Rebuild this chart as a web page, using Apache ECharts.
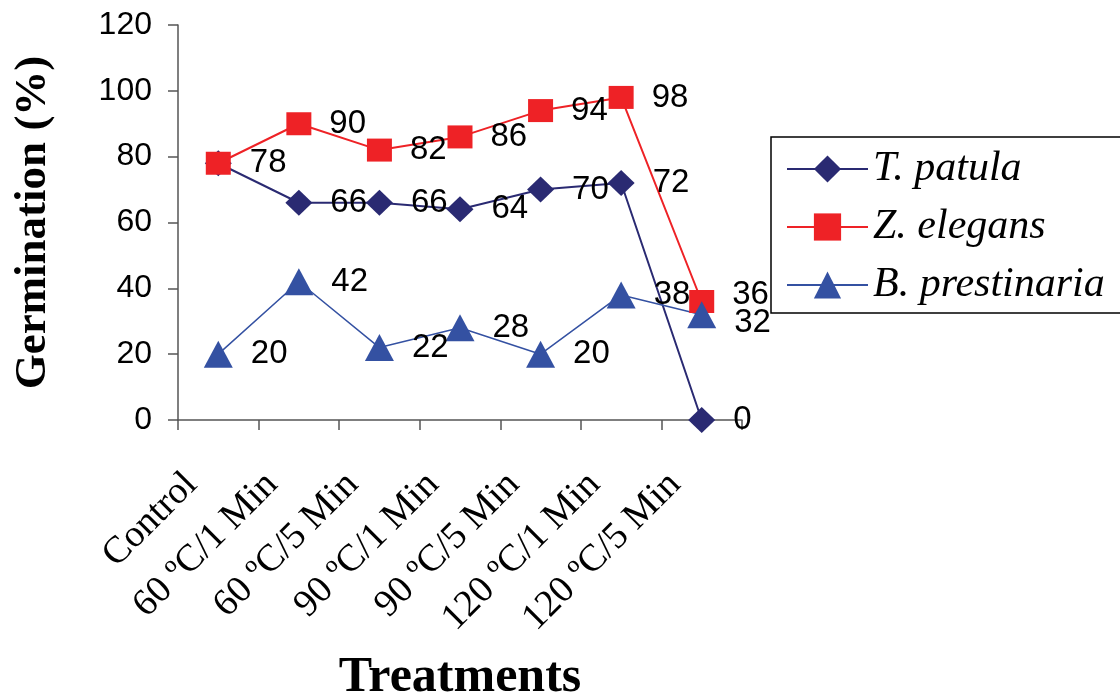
<!DOCTYPE html>
<html>
<head>
<meta charset="utf-8">
<script src="https://cdn.jsdelivr.net/npm/echarts@6/dist/echarts.min.js"></script>
<style>html,body{margin:0;padding:0;background:#fff}#c{width:1120px;height:700px}</style>
</head>
<body>
<div id="c"></div>
<script>
const categories = ['Control', '60 \u00BAC/1 Min', '60 \u00BAC/5 Min', '90 \u00BAC/1 Min', '90 \u00BAC/5 Min', '120 \u00BAC/1 Min', '120 \u00BAC/5 Min'];
const tPatula = [78, 66, 66, 64, 70, 72, 0];
const zElegans = [78, 90, 82, 86, 94, 98, 36];
const bPrestinaria = [20, 42, 22, 28, 20, 38, 32];
const yTicks = [0, 20, 40, 60, 80, 100, 120];

const SANS = '"Liberation Sans", Arial, sans-serif';
const SERIF = '"Liberation Serif", "Times New Roman", serif';

const chart = echarts.init(document.getElementById('c'));
const labelStyle = {show: true, position: 'right', distance: 18, color: '#000', fontFamily: SANS, fontSize: 33};
const last = zElegans.length - 1;

chart.setOption({
  animation: false,
  grid: {left: 178, right: 378, top: 25, bottom: 280, containLabel: false, outerBoundsMode: 'none'},
  legend: {
    left: 771, top: 137, orient: 'vertical',
    padding: [11, 90, 7, 15],
    itemWidth: 81, itemHeight: 34, itemGap: 16,
    borderColor: '#000', borderWidth: 1.5,
    textStyle: {fontFamily: SERIF, fontStyle: 'italic', fontSize: 42, color: '#000'},
    data: ['T. patula', 'Z. elegans', 'B. prestinaria']
  },
  xAxis: {
    type: 'category', data: categories, boundaryGap: true,
    name: 'Treatments', nameLocation: 'middle', nameGap: 233,
    nameTextStyle: {fontFamily: SERIF, fontWeight: 'bold', fontSize: 50, color: '#000'},
    axisLine: {lineStyle: {color: '#555', width: 1.5}},
    axisTick: {show: true, length: 10, alignWithLabel: false, lineStyle: {color: '#555', width: 1.5}},
    axisLabel: {rotate: 45, margin: 32, padding: [0, 38, 0, 0], interval: 0, fontFamily: SERIF, fontSize: 38, color: '#000'},
    splitLine: {show: false}
  },
  yAxis: {
    type: 'value', min: yTicks[0], max: yTicks[yTicks.length - 1], interval: 20,
    name: 'Germination (%)', nameLocation: 'middle', nameGap: 122, nameRotate: 90,
    nameTextStyle: {fontFamily: SERIF, fontWeight: 'bold', fontSize: 45, color: '#000'},
    axisLine: {show: true, lineStyle: {color: '#555', width: 1.5}},
    axisTick: {show: true, length: 10, lineStyle: {color: '#555', width: 1.5}},
    axisLabel: {margin: 26, fontFamily: SANS, fontSize: 32, color: '#000'},
    splitLine: {show: false}
  },
  series: [
    {
      name: 'T. patula', type: 'line', data: tPatula,
      symbol: 'diamond', symbolSize: [27, 26],
      itemStyle: {color: '#2a2a72'}, lineStyle: {color: '#2a2a72', width: 2},
      label: labelStyle
    },
    {
      name: 'Z. elegans', type: 'line',
      data: zElegans.map((v, i) => i === 0 ? {value: v, label: {show: false}}
                              : i === last ? {value: v, label: {offset: [0, -7]}} : v),
      symbol: 'rect', symbolSize: [25, 23],
      itemStyle: {color: '#ee2226'}, lineStyle: {color: '#ee2226', width: 2},
      label: labelStyle
    },
    {
      name: 'B. prestinaria', type: 'line',
      data: bPrestinaria.map((v, i) => i === last ? {value: v, label: {offset: [0, 8]}} : v),
      symbol: 'triangle', symbolSize: [29, 27],
      itemStyle: {color: '#3451a2'}, lineStyle: {color: '#3451a2', width: 1.5},
      label: labelStyle
    }
  ]
});
</script>
</body>
</html>
